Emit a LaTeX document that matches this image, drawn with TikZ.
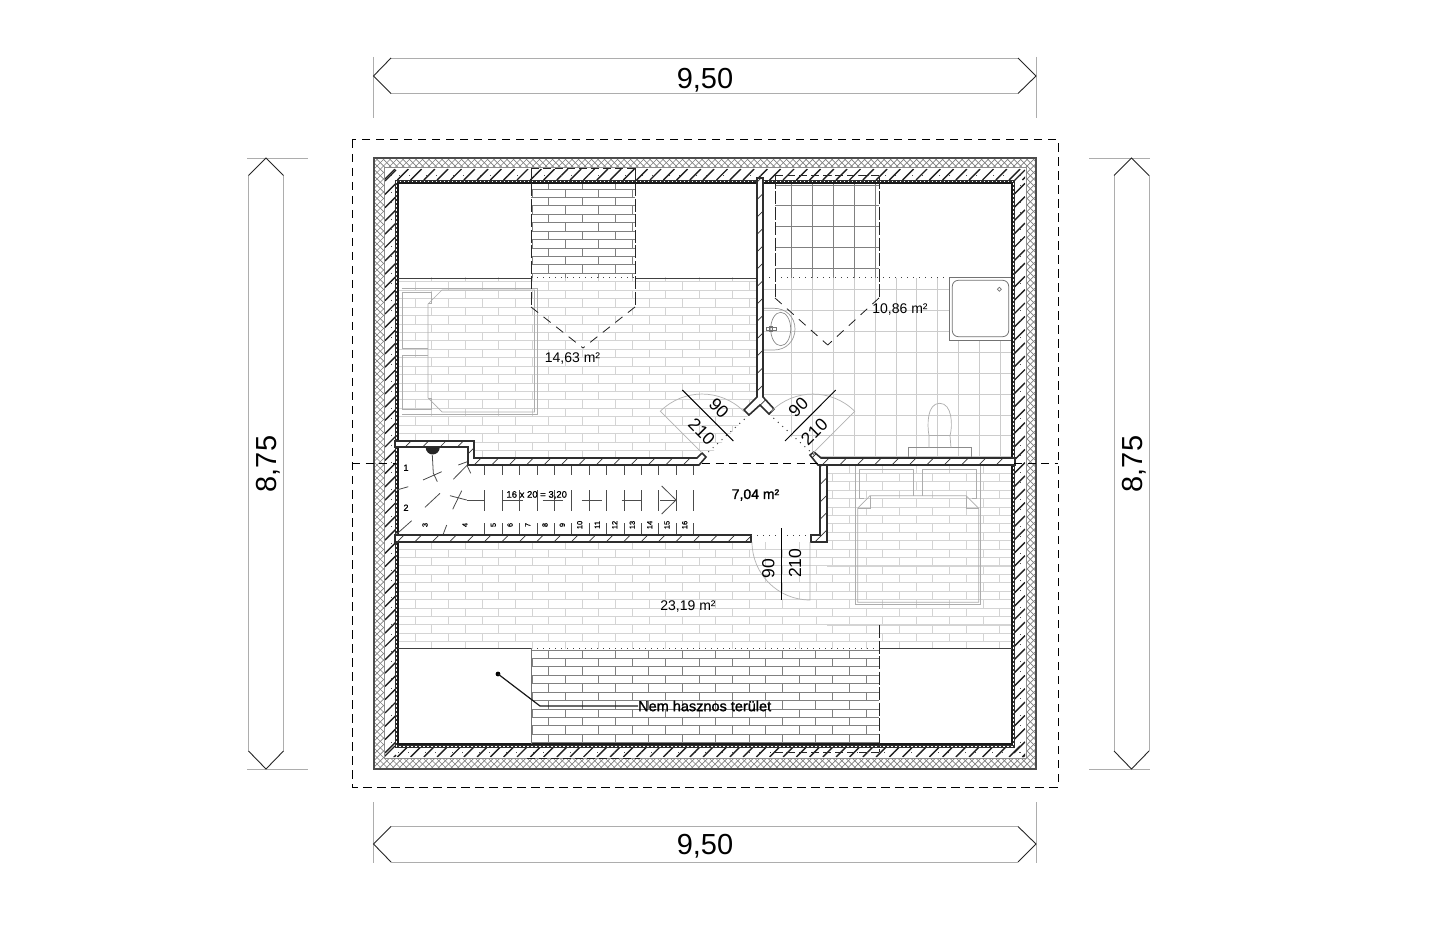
\documentclass[tikz,border=0pt]{standalone}
\usepackage{fontspec}
\setmainfont{Liberation Sans}
\newfontfamily\fbold[FakeBold=0.8]{Liberation Sans}
\newfontfamily\fboldx[FakeBold=1.4]{Liberation Sans}
\begin{document}
\newcommand\bricks[8]{% x0 y0 x1 y1 ybase nrows color width
  \begin{scope}
    \clip (#1,#2) rectangle (#3,#4);
    \foreach \k in {0,...,#6}{
      \pgfmathsetmacro\yy{#5+8.43*\k}
      \pgfmathsetmacro\yb{\yy+8.43}
      \pgfmathsetmacro\off{mod(\k,2)*16.7}
      \draw[color=#7,line width=#8] (#1,\yy) -- (#3,\yy);
      \foreach \m in {0,...,19}{
        \pgfmathsetmacro\xx{381.7+33.4*\m+\off}
        \draw[color=#7,line width=#8] (\xx,\yy) -- (\xx,\yb);
      }
    }
  \end{scope}}
\newcommand\tiles[6]{% x0 y0 x1 y1 color width
  \begin{scope}
    \clip (#1,#2) rectangle (#3,#4);
    \foreach \m in {0,...,11}{
      \pgfmathsetmacro\xx{791.7+20.85*\m}
      \draw[color=#5,line width=#6] (\xx,#2) -- (\xx,#4);
    }
    \foreach \m in {0,...,13}{
      \pgfmathsetmacro\yy{185+20.9*\m}
      \draw[color=#5,line width=#6] (#1,\yy) -- (#3,\yy);
    }
  \end{scope}}
\newcommand\wall[1]{%
  \begin{scope}
    \fill[white] #1;
    \clip #1;
    \foreach \d in {800,817.4,...,1700}{
      \draw[line width=0.7,color=black!80] (\d,0) -- (0,\d);
    }
  \end{scope}
  \draw[wallline] #1;}
\begin{tikzpicture}[x=1pt,y=-1pt,
  wallline/.style={line width=1.6,color=black!82,line join=miter},
  lightdraw/.style={line width=0.7,color=black!32},
  swing/.style={line width=0.7,color=black!30},
  dimedge/.style={line width=0.8,color=black!32},
  dimtip/.style={line width=0.9,color=black!85},
  dormerv/.style={line width=0.9,color=black!85,dash pattern=on 13pt off 2.5pt},
  dormerd/.style={line width=0.8,color=black!88,dash pattern=on 9pt off 7pt},
  dormert/.style={line width=0.7,color=black!85,dash pattern=on 8pt off 4pt},
  dots/.style={line width=1,color=black!75,dash pattern=on 1pt off 5pt},
  doorline/.style={line width=1,color=black},
  tread/.style={line width=0.8,color=black!70},
  label/.style={inner sep=0pt,font=\fontsize{14}{16}\selectfont},
  dimtext/.style={inner sep=0pt,font=\fontsize{29}{32}\selectfont},
  doortext/.style={inner sep=0pt,font=\fontsize{17.5}{20}\selectfont},
  stepnum/.style={inner sep=0pt,font=\fbold\fontsize{7.5}{9}\selectfont}]
\useasboundingbox (0,0) rectangle (1449,949);
\fill[white] (0,0) rectangle (1449,949);

% outer wall: crosshatch band
\begin{scope}
  \clip (374,158) rectangle (1036,769);
  \foreach \d in {530,536.5,...,1810}{
    \draw[line width=0.7,color=black!50] (\d,0) -- (0,\d);
  }
  \foreach \d in {-400,-393.5,...,880}{
    \pgfmathsetmacro\e{\d+1449}
    \draw[line width=0.7,color=black!50] (\d,0) -- (\e,1449);
  }
\end{scope}
\fill[white] (384,168) rectangle (1026,758);
\draw[line width=1,color=black!45] (384,168) rectangle (1026,758);
\draw[line width=1.5,color=black!70] (374,158) rectangle (1036,769);

% floor patterns
\bricks{398}{278}{763}{458}{180.55}{33}{black!17}{0.7}
\bricks{398}{542}{1012}{648}{532.1}{14}{black!17}{0.7}
\bricks{827}{465}{1012}{648}{464.8}{22}{black!17}{0.7}
\bricks{531}{183}{635}{278}{180.55}{12}{black!50}{0.9}
\bricks{531}{650}{879}{744}{650}{12}{black!50}{0.9}
\tiles{763}{278}{1012}{458}{black!20}{0.7}
\tiles{775}{183}{879}{278}{black!50}{0.9}

% hall is clear of bricks
\fill[white] (398,447) -- (468,447) -- (468,465) -- (700,465) -- (749,415) -- (760,405) -- (769,414) -- (818,465) -- (820,465) -- (820,535) -- (398,535) -- cycle;

% bed, room 1
\draw[lightdraw] (401.7,288) -- (537.3,288) -- (537.3,414) -- (401.7,414);
\draw[lightdraw] (442,290) -- (534.5,290) -- (534.5,412) -- (442,412) -- (428,398) -- (428,304) -- cycle;
\draw[lightdraw] (402,292) -- (431,292) -- (431,303) -- (428,303);
\draw[lightdraw] (402,292) -- (402,348) -- (428,348);
\draw[lightdraw] (402,355) -- (428,355);
\draw[lightdraw] (402,355) -- (402,409) -- (431,409) -- (431,398) -- (428,398);
% bed, room 3
\draw[lightdraw] (855.7,466) -- (855.7,604.3) -- (980.7,604.3) -- (980.7,466);
\draw[lightdraw] (857.7,508.3) -- (857.7,602.3) -- (978.7,602.3) -- (978.7,508.3) -- (966,495.7) -- (870,495.7) -- cycle;
\draw[lightdraw] (870,495.7) -- (870,508.3) -- (857.7,508.3);
\draw[lightdraw] (966,495.7) -- (966,508.3) -- (978.7,508.3);
\draw[lightdraw] (859.3,498.3) -- (859.3,469.3) -- (913.7,469.3) -- (913.7,495.7);
\draw[lightdraw] (922.3,495.7) -- (922.3,469.3) -- (976.7,469.3) -- (976.7,498.3);
\draw[lightdraw] (859.3,498.3) -- (864.3,498.3);
\draw[lightdraw] (971.7,498.3) -- (976.7,498.3);
% toilet
\draw[line width=0.7,color=black!45] (908.3,447.7) rectangle (971.3,457.7);
\draw[lightdraw] (929,447.7) -- (929,435.7) .. controls (927,425) and (927,403.3) .. (939.7,403.3) .. controls (952,403.3) and (953,425) .. (950,435.7) -- (951,447.7);
\draw[lightdraw] (929,435.7) -- (950,435.7);
% sink
\draw[line width=0.7,color=black!40] (764,308.3) -- (774,308.3) .. controls (786,308.3) and (795,317) .. (795,329) .. controls (795,341) and (786,350) .. (774,350) -- (764,350);
\draw[line width=0.7,color=black!45] (780.7,329) ellipse[x radius=10,y radius=16.7];
\draw[line width=0.7,color=black!55] (766.7,327.7) rectangle (776,330.5);
\draw[line width=0.7,color=black!55] (769.5,326.5) rectangle (772,331.5);
% shower
\fill[white] (949.3,277.7) rectangle (1011.7,340);
\draw[line width=0.8,color=black!55] (949.3,277.7) rectangle (1011.7,340);
\draw[line width=0.8,color=black!55,rounded corners=6] (952.3,280.3) rectangle (1008.7,336.7);
\draw[line width=0.7,color=black!55] (999.3,287.3) -- (1001.3,289.3) -- (999.3,291.3) -- (997.3,289.3) -- cycle;

% outer wall: hatched band strokes
\begin{scope}
  \clip (385,169) -- (1025,169) -- (1025,757) -- (385,757) -- (385,169) -- (396,180) -- (396,746) -- (1014,746) -- (1014,180) -- (396,180) -- cycle;
  \foreach \i in {0,...,48}{
    \pgfmathsetmacro\xa{384+13.3*\i}
    \pgfmathsetmacro\xb{\xa+11}
    \draw[line width=1.4,color=black!88] (\xa,180) -- (\xb,169);
    \draw[line width=1.4,color=black!88] (\xa,757) -- (\xb,746);
  }
  \foreach \i in {0,...,45}{
    \pgfmathsetmacro\ya{181+13.3*\i}
    \pgfmathsetmacro\yb{\ya-11}
    \draw[line width=1.4,color=black!88] (385,\ya) -- (396,\yb);
    \draw[line width=1.4,color=black!88] (1014,\ya) -- (1025,\yb);
  }
\end{scope}
\draw[line width=0.9,color=black!70,dash pattern=on 1pt off 16pt on 1pt off 9pt] (391,175) rectangle (1020,752);
% inner dotted band
\draw[line width=3.5,color=black!82] (396.3,181.3) rectangle (1013.7,746.2);
\draw[line width=1.3,color=white,dash pattern=on 1.4pt off 2.6pt] (396.3,181.3) rectangle (1013.7,746.2);
\draw[line width=1.2,color=black!90] (398,183) rectangle (1012,744);

% eave lines
\draw[line width=0.9,color=black!75] (398,278) -- (531,278);
\draw[line width=0.9,color=black!75] (635,278) -- (757,278);
\draw[dots] (531,278) -- (635,278);
\draw[dots] (763,278) -- (949,278);
\draw[line width=0.9,color=black!75] (398,648) -- (531,648);
\draw[line width=0.9,color=black!75] (879,648) -- (1012,648);
\draw[dots] (531,648) -- (879,648);
\draw[line width=0.9,color=black!55] (531,648) -- (531,744);

% dormers
\draw[dormerv] (531,168) -- (531,307);
\draw[dormerv] (635,168) -- (635,307);
\draw[dormerd] (531,307) -- (583,348);
\draw[dormerd] (635,307) -- (583,348);
\draw[dormert] (531,168) -- (635,168);
\draw[dormerv] (775,175.7) -- (775,298);
\draw[dormerv] (879,175.7) -- (879,298);
\draw[dormerd] (775,298) -- (827.7,345);
\draw[dormerd] (879,298) -- (827.7,345);
\draw[dormert] (775,175.7) -- (879,175.7);
\draw[dormerv] (879,625) -- (879,752);
\draw[dormert] (879,752) -- (770,752);
\draw[dormert] (527,758) -- (640,758);

% interior walls
\wall{(757,178) -- (757,397) -- (744,410) -- (749,415) -- (760,405) -- (769,414) -- (774,409) -- (763,397) -- (763,178) -- cycle}
\wall{(395,441) -- (474,441) -- (474,458) -- (697,458) -- (702,453) -- (706,457) -- (699,465) -- (468,465) -- (468,447) -- (395,447) -- cycle}
\wall{(395,535) -- (751,535) -- (751,542) -- (395,542) -- cycle}
\wall{(811,535) -- (820,535) -- (820,465) -- (827,465) -- (827,542) -- (811,542) -- cycle}
\wall{(810,455) -- (814,452) -- (821,458) -- (1015,458) -- (1015,465) -- (818,465) -- cycle}

% openings
\draw[dots] (749,415) -- (705,455);
\draw[dots] (769,414) -- (814,455);
\draw[dots] (751,535) -- (811,535);

% center section line
\draw[line width=1,color=black,dash pattern=on 8pt off 5.5pt] (352,464) -- (396,464);
\draw[line width=1,color=black,dash pattern=on 8pt off 5.5pt] (702,464) -- (818,464);
\draw[line width=1,color=black,dash pattern=on 8pt off 5.5pt] (1014,464) -- (1058,464);

% roof outline
\draw[line width=1,color=black,dash pattern=on 8.5pt off 5.5pt] (352,140) rectangle (1058,787);

% door swings
\draw[swing] (702,453) -- (660.3,411.3) .. controls (683.3,388.3) and (720.7,388.3) .. (743.7,411.3);
\draw[swing] (813,453) -- (854.7,411.3) .. controls (831.7,388.3) and (794.3,388.3) .. (771.3,411.3);
\draw[swing] (810,542) -- (810,600) .. controls (778,600) and (752,574) .. (752,542);
\draw[doorline] (682.3,390) -- (733.3,441);
\draw[doorline] (835.7,390) -- (785,441);
\draw[doorline] (781.7,528) -- (781.7,600);
\node[doortext,rotate=-45] (da) at (719,408.3) {90};
\node[doortext,rotate=-45] (db) at (701.7,431.7) {210};
\node[doortext,rotate=45] (dc) at (798.3,407.3) {90};
\node[doortext,rotate=45] (dd) at (814.3,431.7) {210};
\node[doortext,rotate=90] (de) at (768.3,568.3) {90};
\node[doortext,rotate=90] (df) at (795,563.3) {210};

% stairs
\fill[black!85] (425.7,447.5) .. controls (425.7,451.4) and (428.8,454.5) .. (432.7,454.5) .. controls (436.6,454.5) and (439.7,451.4) .. (439.7,447.5) -- cycle;
\foreach \i in {0,...,12}{
  \pgfmathsetmacro\xx{484.7+17.4*\i}
  \draw[tread] (\xx,466) -- (\xx,475);
  \draw[tread] (\xx,490) -- (\xx,510.5);
  \draw[tread] (\xx,523) -- (\xx,534);
}
\draw[tread] (467,500) -- (484.7,500);
\draw[tread] (502.7,500) -- (522.7,500);
\draw[tread] (542.7,500) -- (562.7,500);
\draw[tread] (581.7,500) -- (601.7,500);
\draw[tread] (621.7,500) -- (641.7,500);
\draw[tread] (660,500) -- (676,500);
\draw[tread] (661.7,486) -- (676,500) -- (661.7,514);
\draw[tread] (432.3,455) -- (433.3,473);
\draw[tread] (423,480) -- (441.7,471.7);
\draw[tread] (433.3,473) -- (437.3,481.7);
\draw[tread] (453.3,479.3) -- (467.3,465);
\draw[tread] (458.3,465) -- (467.3,461.7);
\draw[tread] (467.3,466) -- (470.7,473.3);
\draw[tread] (396.7,490) -- (408.3,486.7);
\draw[tread] (425,507.3) -- (440,493.3);
\draw[tread] (450,495.7) -- (466.7,500);
\draw[tread] (452.7,509.3) -- (461.7,490.7);
\draw[tread] (396.7,534) -- (411.7,520.7);
\draw[tread] (443.3,534) -- (446.7,525);
\node[stepnum,font=\fbold\fontsize{9}{10}\selectfont] (s1) at (406,467.7) {1};
\node[stepnum,font=\fbold\fontsize{9}{10}\selectfont] (s2) at (406,507.7) {2};
\node[stepnum,rotate=90] (s3) at (425,525) {3};
\node[stepnum,rotate=90] (s4) at (465,525) {4};
\node[stepnum,rotate=90] (s5) at (493.3,525) {5};
\node[stepnum,rotate=90] (s6) at (510,525) {6};
\node[stepnum,rotate=90] (s7) at (527.7,525) {7};
\node[stepnum,rotate=90] (s8) at (545,525) {8};
\node[stepnum,rotate=90] (s9) at (562.3,525) {9};
\node[stepnum,rotate=90] (s10) at (579.7,525) {10};
\node[stepnum,rotate=90] (s11) at (597.3,525) {11};
\node[stepnum,rotate=90] (s12) at (614.7,525) {12};
\node[stepnum,rotate=90] (s13) at (632.3,525) {13};
\node[stepnum,rotate=90] (s14) at (649.7,525) {14};
\node[stepnum,rotate=90] (s15) at (667,525) {15};
\node[stepnum,rotate=90] (s16) at (684.7,525) {16};
\node[inner sep=0pt,font=\fbold\fontsize{9.5}{11}\selectfont] (rise) at (536.7,495) {16 x 20 = 3,20};

% room labels
\node[label] (r1) at (572.5,359) {14,63 m²};
\node[label] (r2) at (900,310) {10,86 m²};
\node[label,font=\fboldx\fontsize{14}{16}\selectfont] (r3) at (755.5,495) {7,04 m²};
\node[label] (r4) at (688,607) {23,19 m²};

% leader
\coordinate (ld) at (498,674);
\coordinate (lb) at (540,706);
\node[inner sep=0pt,anchor=west,font=\fboldx\fontsize{14.5}{16}\selectfont] (nem) at (638,706) {Nem hasznos terület};
\fill[black] (ld) circle (2.4);
\draw[line width=1.2,color=black!90] (ld) -- (lb) -- (nem.west);

% dimensions
\draw[dimedge] (373.5,57) -- (373.5,118);
\draw[dimedge] (1036,57) -- (1036,118);
\draw[dimedge] (391,58) -- (1018,58);
\draw[dimedge] (391,93.5) -- (1018,93.5);
\draw[dimtip] (391,58) -- (373.5,76) -- (391,93.5);
\draw[dimtip] (1018,58) -- (1036,76) -- (1018,93.5);
\node[dimtext] (w1) at (705,80) {9,50};

\draw[dimedge] (373.5,802) -- (373.5,863);
\draw[dimedge] (1036,802) -- (1036,863);
\draw[dimedge] (391,826.5) -- (1018,826.5);
\draw[dimedge] (391,862) -- (1018,862);
\draw[dimtip] (391,826.5) -- (373.5,844) -- (391,862);
\draw[dimtip] (1018,826.5) -- (1036,844) -- (1018,862);
\node[dimtext] (w2) at (705,846) {9,50};

\draw[dimedge] (247,158) -- (308,158);
\draw[dimedge] (247,769) -- (308,769);
\draw[dimedge] (248.5,175.5) -- (248.5,751);
\draw[dimedge] (283.5,175.5) -- (283.5,751);
\draw[dimtip] (248.5,175.5) -- (266,158) -- (283.5,175.5);
\draw[dimtip] (248.5,751) -- (266,769) -- (283.5,751);
\node[dimtext,rotate=90] (h1) at (268,464) {8,75};

\draw[dimedge] (1089,158) -- (1150,158);
\draw[dimedge] (1089,769) -- (1150,769);
\draw[dimedge] (1114,175.5) -- (1114,751);
\draw[dimedge] (1149,175.5) -- (1149,751);
\draw[dimtip] (1114,175.5) -- (1131.5,158) -- (1149,175.5);
\draw[dimtip] (1114,751) -- (1131.5,769) -- (1149,751);
\node[dimtext,rotate=90] (h2) at (1134,464) {8,75};
\end{tikzpicture}
\end{document}
